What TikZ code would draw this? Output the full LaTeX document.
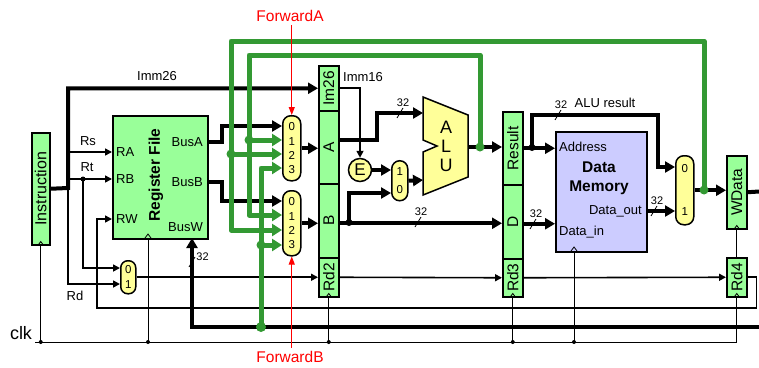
\documentclass[tikz,border=0pt]{standalone}
\usepackage{fontspec}
\setmainfont{Liberation Sans}
\usetikzlibrary{arrows.meta}
\begin{document}
\begin{tikzpicture}[x=1pt, y=-1pt, >={Triangle[length=7pt,width=7pt]},
    reg/.style={draw, fill=regfill, line width=1.5pt, inner sep=0pt, anchor=north west,
      font=\fontsize{15.5}{16}\selectfont},
    mux/.style={draw, fill=muxfill, line width=1.5pt, inner sep=0pt, anchor=north west,
      rounded corners=8pt, align=center, font=\fontsize{11.5}{14.3}\selectfont},
    lbl/.style={inner sep=0pt, font=\fontsize{13}{15}\selectfont},
    bus/.style={line width=4pt, >={Triangle[length=10pt,width=11pt]}},
    sig/.style={line width=1.6pt},
    fwd/.style={line width=5pt, draw=fwdgreen, line join=round, >={Triangle[length=10pt,width=12pt]}},
    clkw/.style={line width=0.8pt},
    ctrl/.style={line width=1pt, draw=red, >={Triangle[length=8pt,width=6pt]}}]
    \definecolor{regfill}{RGB}{153,255,153}
    \definecolor{muxfill}{RGB}{255,255,153}
    \definecolor{memfill}{RGB}{204,204,255}
    \definecolor{fwdgreen}{RGB}{51,153,51}
    \def\ck#1{\draw[clkw] ([xshift=-3pt]#1) -- ([yshift=4pt]#1) -- ([xshift=3pt]#1);}
    \def\wmark#1#2#3{\draw[clkw] (#1) ++(-3,5) -- ++(6,-10)
      node[#2, inner sep=1pt, font=\fontsize{11}{12}\selectfont] (#3) {32};}
    \useasboundingbox (0,0) rectangle (759,367);

    \node[reg, minimum width=18, minimum height=112, font=\fontsize{16}{16}\selectfont] (inst) at (31,132) {\rotatebox{90}{Instruction}};
    \node[reg, minimum width=95, minimum height=123] (rf) at (112,115) {};
    \node[reg, minimum width=20, minimum height=45] (im) at (318,65) {\rotatebox{90}{Im26}};
    \node[reg, minimum width=20, minimum height=73] (rga) at (318,110) {\rotatebox{90}{A}};
    \node[reg, minimum width=20, minimum height=74] (rgb) at (318,183) {\rotatebox{90}{B}};
    \node[reg, minimum width=20, minimum height=39] (rd2) at (318,257) {\rotatebox{90}{Rd2}};
    \node[reg, minimum width=20, minimum height=73] (res) at (502,111) {\rotatebox{90}{Result}};
    \node[reg, minimum width=20, minimum height=74] (rgd) at (502,184) {\rotatebox{90}{D}};
    \node[reg, minimum width=20, minimum height=38] (rd3) at (502,258) {\rotatebox{90}{Rd3}};
    \node[reg, minimum width=20, minimum height=73] (wd) at (726,155) {\rotatebox{90}{WData}};
    \node[reg, minimum width=20, minimum height=39] (rd4) at (726,257) {\rotatebox{90}{Rd4}};
    \node[reg, fill=memfill, minimum width=91, minimum height=120] (dm) at (555,131) {};

    \node[mux, minimum width=18, minimum height=65] (mxa) at (282,115) {0\\1\\2\\3};
    \node[mux, minimum width=18, minimum height=65] (mxb) at (282,190) {0\\1\\2\\3};
    \node[mux, minimum width=15, minimum height=33, rounded corners=7pt,
      font=\fontsize{11.5}{15}\selectfont] (mxr) at (120,260) {0\\1};
    \node[mux, minimum width=16, minimum height=40, font=\fontsize{11.5}{18}\selectfont] (mxs) at (391,160) {1\\0};
    \node[mux, minimum width=18, minimum height=69, font=\fontsize{11.5}{43}\selectfont] (mxw) at (675,155) {0\\1};
    \node[circle, draw, fill=muxfill, line width=1.5pt, minimum size=23, inner sep=0pt,
      font=\fontsize{17}{17}\selectfont] (ext) at (360,170) {E};

    \draw[fill=muxfill, line width=1.5pt] (423,97) -- (468,115) -- (468,177) -- (423,195)
      -- (423,152) -- (437,146) -- (423,140) -- cycle;
    \node[align=center, font=\fontsize{18}{19}\selectfont] (alu) at (446,146) {A\\L\\U};
    \coordinate (aluA) at (423,113);
    \coordinate (aluB) at (423,180);
    \coordinate (aluO) at (468,147);

    \node[lbl, anchor=west] (ra) at (116,152) {RA};
    \node[lbl, anchor=west] (rb) at (116,179) {RB};
    \node[lbl, anchor=west] (rw) at (116,219) {RW};
    \node[lbl, anchor=east] (busa) at (203,142) {BusA};
    \node[lbl, anchor=east] (busb) at (203,182) {BusB};
    \node[lbl, anchor=east] (busw) at (203,227) {BusW};
    \node[font=\fontsize{15.5}{16}\selectfont\bfseries, rotate=90] (rft) at (156,175) {Register File};
    \node[lbl] (imm26) at (157,76) {Imm26};
    \node[lbl] (rs) at (88,141) {Rs};
    \node[lbl] (rt) at (87,167) {Rt};
    \node[lbl] (rd) at (75,296) {Rd};
    \node[lbl] (imm16) at (363,77) {Imm16};
    \node[lbl] (alur) at (605,103) {ALU result};
    \node[lbl, anchor=west] (addr) at (559,147) {Address};
    \node[lbl, anchor=east] (dout) at (642,211) {Data\_out};
    \node[lbl, anchor=west] (din) at (559,232) {Data\_in};
    \node[align=center, font=\fontsize{15.5}{19}\selectfont\bfseries] (dmt) at (599,178) {Data\\Memory};
    \node[font=\fontsize{18}{18}\selectfont] (clk) at (21,333) {clk};
    \node[red, font=\fontsize{15.5}{16}\selectfont] (fwa) at (290,16) {ForwardA};
    \node[red, font=\fontsize{15.5}{16}\selectfont] (fwb) at (290,357) {ForwardB};

    \coordinate (fan) at (68,188);
    \coordinate (rsj) at (68,152);
    \coordinate (rtj) at (68,179);
    \coordinate (rtd) at (83,179);
    \coordinate (mR0) at (120,268);
    \coordinate (mR1) at (120,284);
    \foreach \n/\y in {0/126,1/140,2/154,3/168} \coordinate (mA\n) at (282,\y);
    \foreach \n/\y in {0/201,1/215,2/230,3/245} \coordinate (mB\n) at (282,\y);
    \coordinate (mS1) at (391,170);
    \coordinate (mS0) at (391,193);
    \coordinate (bj) at (349,222.5);
    \coordinate (aj) at (532,147.5);
    \coordinate (mW0) at (675,167);
    \coordinate (mW1) at (675,211);
    \coordinate (wbR) at (759,191.5);
    \coordinate (wbL) at (759,327);
    \coordinate (bwin) at (192,238);

    \draw[bus,->] (inst.east) -- (fan) |- (im.west);
    \draw[sig,->] (rsj) -- (rf.west |- ra);
    \draw[sig,->] (rtj) -- (rf.west |- rb);
    \draw[sig,->] (rtd) |- (mR0);
    \draw[sig,->] (fan) |- (mR1);
    \fill (rtd) circle (2.5);
    \draw[sig,->] (mxr.east) -- (rd2.west);
    \draw[sig,->] (rd2.east) -- (rd3.west);
    \draw[sig,->] (rd3.east) -- (rd4.west);
    \draw[sig,->] (rd4.east) -- ++(9,0) |- (97,308) |- (rf.west |- rw);
    \draw[bus,->] (rf.east |- busa) -- ++(13,0) |- (mA0);
    \draw[bus,->] (rf.east |- busb) -- ++(13,0) |- (mB0);
    \draw[bus,->] (mxa.east) -- (mxa.east -| rga.west);
    \draw[bus,->] (mxb.east) -- (mxb.east -| rgb.west);
    \draw[sig,->] (im.east) -| (ext.north);
    \draw[bus,->] ([yshift=7pt]rga.east) -- ++(37,0) |- (aluA);
    \draw[bus,->] (ext.east) -- (mS1);
    \draw[bus,->] (mxb.east -| rgb.east) -- (mxb.east -| rgd.west);
    \draw[bus,->] (bj) |- (mS0);
    \fill (bj) circle (3.5);
    \draw[bus,->] (mxs.east) -- (aluB);
    \draw[bus,->] (aluO) -- (aluO -| res.west);
    \draw[bus,->] (res.east) -- (res.east -| dm.west);
    \draw[bus,->] (aj) |- (658,115) |- (mW0);
    \fill (aj) circle (3.5);
    \draw[bus,->] ([yshift=-2pt]rgd.east) -- ([yshift=-2pt]rgd.east -| dm.west);
    \draw[bus,->] (dm.east |- dout) -- (mW1);
    \draw[bus,->] (mxw.east) -- (mxw.east -| wd.west);
    \draw[bus] (wd.east) -- (wbR);
    \draw[bus,->] (wbL) -| (bwin);
    \wmark{400,113}{above}{w1}
    \wmark{418,222}{above}{w2}
    \wmark{558,115}{above}{w3}
    \wmark{533,224}{above}{w4}
    \wmark{654,211}{above}{w5}
    \wmark{192,262}{right}{w6}

    \coordinate (ck0) at (35,342);
    \coordinate (rfclk) at (148,238);
    \coordinate (dmclk) at (574,251);
    \draw[clkw] (ck0) -| (rd4.south);
    \draw[clkw] (rd4.north) -- (wd.south);
    \foreach \c in {inst.south, rfclk, rd2.south, rd3.south, dmclk} {
      \draw[clkw] (\c) -- (\c |- ck0);
      \fill (\c |- ck0) circle (2);
      \ck{\c}
    }
    \ck{rd4.south}
    \ck{wd.south}

    \coordinate (gw) at (704,190);
    \coordinate (gw2) at (231,154);
    \coordinate (ga) at (480,147);
    \coordinate (ga2) at (249,140);
    \coordinate (gm) at (261,327);
    \coordinate (gm2) at (261,245);
    \draw[fwd,->] (gw) |- (231,41) |- (mB2);
    \draw[fwd,->] (gw2) -- (mA2);
    \draw[fwd,->] (ga) |- (249,55) |- (mB1);
    \draw[fwd,->] (ga2) -- (mA1);
    \draw[fwd,->] (gm) |- (mA3);
    \draw[fwd,->] (gm2) -- (mB3);
    \fill[fwdgreen] (gw) circle (4.5) (gw2) circle (4.5) (ga) circle (4.5)
      (ga2) circle (4.5) (gm) circle (5) (gm2) circle (4.5);

    \draw[ctrl,->] (fwa.south -| mxa.north) -- (mxa.north);
    \draw[ctrl,->] (fwb.north -| mxb.south) -- (mxb.south);
\end{tikzpicture}
\end{document}
